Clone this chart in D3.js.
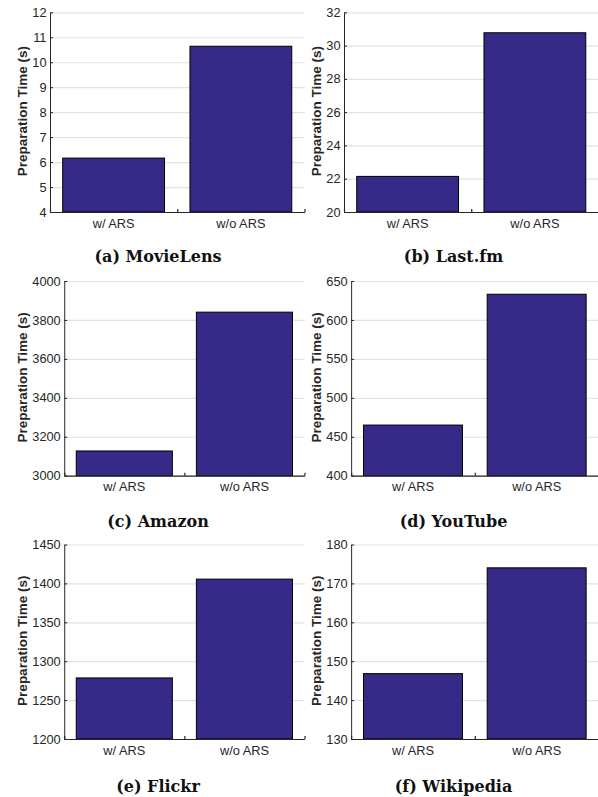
<!DOCTYPE html>
<html>
<head>
<meta charset="utf-8">
<script src="https://cdn.jsdelivr.net/npm/d3@7"></script>
<style>
  body { margin: 0; background: #fff; }
  svg { display: block; }
</style>
</head>
<body>
<script>
// 数据
const categories = ['w/ ARS', 'w/o ARS'];
const captions = ['(a) MovieLens', '(b) Last.fm', '(c) Amazon', '(d) YouTube', '(e) Flickr', '(f) Wikipedia'];
const withARS = [6.16, 22.14, 3127, 465, 1278.5, 146.8];
const withoutARS = [10.64, 30.77, 3840, 633, 1405.5, 174];
const yMin = [4, 20, 3000, 400, 1200, 130];
const yMax = [12, 32, 4000, 650, 1450, 180];
const yStep = [1, 2, 200, 50, 50, 10];

// 布局
const W = 598, H = 797;
const colX = [0, 294];
const rowTop = [12.3, 281, 544.5];
const rowBottom = [212, 475.7, 739];
const captionX = [158, 453.5];
const captionY = [262, 527, 791.5];
const barColor = '#352a87';
const axisColor = '#262626';
const sansFamily = '"Liberation Sans", Arial, Helvetica, sans-serif';
const tickSize = 12.8;

const svg = d3.select('body').append('svg')
    .attr('width', W)
    .attr('height', H);

// 测量刻度标签宽度
const measure = svg.append('text')
    .attr('font-family', sansFamily)
    .attr('font-size', tickSize)
    .attr('visibility', 'hidden');
const textWidth = s => measure.text(s).node().getComputedTextLength();
const baseLeft = 50 - textWidth('12');

const styleText = sel => sel
    .attr('font-family', sansFamily)
    .attr('font-size', tickSize)
    .attr('fill', axisColor);

captions.forEach((caption, i) => {
    const col = i % 2, row = Math.floor(i / 2);
    const ticks = d3.range(yMin[i], yMax[i] + yStep[i] / 2, yStep[i]);
    const labelW = d3.max(ticks, t => textWidth(String(t)));
    const left = colX[col] + baseLeft + labelW;
    const right = colX[col] + 304.5;
    const top = rowTop[row], bottom = rowBottom[row];

    const y = d3.scaleLinear().domain([yMin[i], yMax[i]]).range([bottom, top]);
    const x = d3.scaleBand().domain(categories).range([left, right])
        .paddingInner(0.2).paddingOuter(0.1);
    const xEdge = d3.scaleLinear().domain([0, categories.length]).range([left, right]);

    const g = svg.append('g');

    // 网格线
    g.append('g')
        .attr('transform', `translate(${left},0)`)
        .call(d3.axisLeft(y).tickValues(ticks).tickSize(-(right - left)).tickFormat(''))
        .call(a => a.select('.domain').remove())
        .call(a => a.selectAll('line').attr('stroke', '#e2e2e2').attr('stroke-width', 1.2));

    // 柱子
    const vals = [withARS[i], withoutARS[i]];
    g.selectAll('rect')
        .data(categories)
        .enter()
        .append('rect')
        .attr('x', d => x(d))
        .attr('width', x.bandwidth())
        .attr('y', (d, k) => y(vals[k]))
        .attr('height', (d, k) => bottom - y(vals[k]))
        .attr('fill', barColor)
        .attr('stroke', '#000')
        .attr('stroke-width', 1);

    // y 轴
    g.append('g')
        .attr('transform', `translate(${left},0)`)
        .call(d3.axisLeft(y).tickValues(ticks).tickFormat(d => String(d))
            .tickSize(-3).tickSizeOuter(0).tickPadding(3.5))
        .call(a => a.selectAll('path, line').attr('stroke', axisColor))
        .call(a => a.selectAll('text').call(styleText));

    // x 轴刻度线
    g.append('g')
        .attr('transform', `translate(0,${bottom})`)
        .call(d3.axisBottom(xEdge).tickValues(d3.range(categories.length + 1)).tickSize(-3).tickSizeOuter(0).tickFormat(''))
        .call(a => a.selectAll('path, line').attr('stroke', axisColor).attr('stroke-width', 1.2));

    // x 轴标签
    g.append('g')
        .attr('transform', `translate(0,${bottom})`)
        .call(d3.axisBottom(x).tickSize(0).tickPadding(6.5))
        .call(a => a.select('.domain').remove())
        .call(a => a.selectAll('text').call(styleText));

    // y 轴标题
    g.append('text')
        .attr('transform', `translate(${colX[col] + 26.5},${(top + bottom) / 2 - 1}) rotate(-90)`)
        .attr('text-anchor', 'middle')
        .attr('font-family', sansFamily)
        .attr('font-size', 13.5)
        .attr('font-weight', 'bold')
        .attr('fill', axisColor)
        .text('Preparation Time (s)');

    // 子图标题
    svg.append('text')
        .attr('x', captionX[col])
        .attr('y', captionY[row])
        .attr('text-anchor', 'middle')
        .attr('font-family', '"DejaVu Serif", serif')
        .attr('font-size', 16)
        .attr('font-weight', 'bold')
        .attr('fill', '#111')
        .text(caption);
});

measure.remove();
</script>
</body>
</html>
